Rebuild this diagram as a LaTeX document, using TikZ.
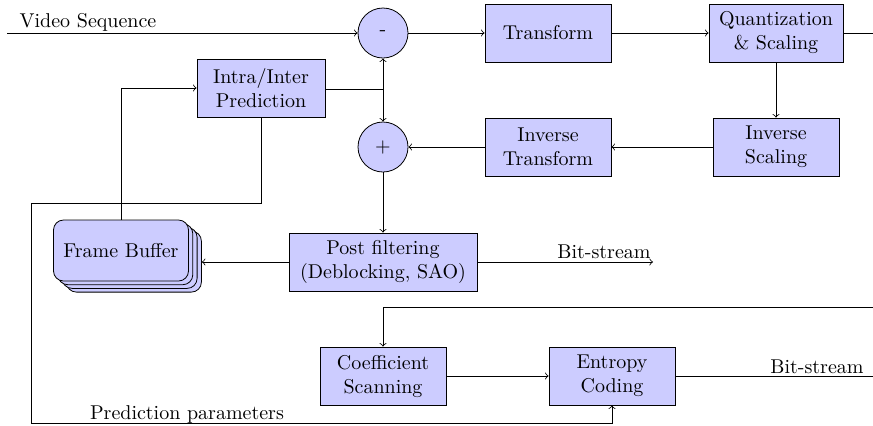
\documentclass[tikz,border=0pt]{standalone}
\usetikzlibrary{calc}
\begin{document}
\begin{tikzpicture}[x=0.5pt,y=-0.5pt,
  block/.style={draw,fill=blue!20,rectangle,minimum width=63pt,minimum height=29pt,align=center,inner sep=2pt},
  sumnode/.style={draw,fill=blue!20,circle,minimum size=25pt,inner sep=0pt},
  fbbox/.style={draw,fill=blue!20,rectangle,rounded corners=5pt,minimum width=67.5pt,minimum height=30.5pt},
  lbl/.style={anchor=base,inner sep=0pt},
  >=to]
\useasboundingbox (0,0) rectangle (873,425);

% main coding loop
\node[sumnode] (minus) at (383,33) {-};
\node[block] (transform) at (548,33) {Transform};
\node[block,minimum width=67pt] (quant) at (776,33) {Quantization\\\& Scaling};
\node[block] (invscale) at (776,147) {Inverse\\Scaling};
\node[block] (invtrans) at (548,147) {Inverse\\Transform};
\node[sumnode] (plus) at (383,147) {+};
\node[block,minimum width=64pt] (intra) at (261,88) {Intra/Inter\\Prediction};
\node[block,minimum width=94pt] (post) at (383,262) {Post filtering\\(Deblocking, SAO)};

% stacked frame buffer
\foreach \i in {3,2,1}{
  \node[fbbox] (fb\i) at ({121+4.3*\i},{250.5+3.7*\i}) {};
}
\node[fbbox] (fb) at (121,250.5) {Frame Buffer};

% entropy coding branch
\node[block] (coef) at (383,376) {Coefficient\\Scanning};
\node[block] (entropy) at (612,376) {Entropy\\Coding};

% free ends
\coordinate (vin) at (7,33);
\coordinate (qout) at (873,33);
\coordinate (junc) at (383,89);
\coordinate (bs1) at (653,262);
\coordinate (cin) at (873,307);
\coordinate (cbend) at (383,307);
\coordinate (bs2) at (873,376);
\coordinate (pp1) at (261,203);
\coordinate (pp2) at (31,203);
\coordinate (pp3) at (31,423);
\coordinate (pp4) at (612,423);

% connectors
\draw[->] (vin) -- (minus.west);
\node[lbl] at (88,27) {Video Sequence};
\draw[->] (minus) -- (transform);
\draw[->] (transform) -- (quant);
\draw (quant.east) -- (qout);
\draw[->] (quant) -- (invscale);
\draw[->] (invscale) -- (invtrans);
\draw[->] (invtrans) -- (plus);
\draw (intra.east |- junc) -- (junc);
\draw[->] (junc) -- (minus.south);
\draw[->] (junc) -- (plus.north);
\draw[->] (plus) -- (post);
\draw[->] (post.west) -- (post.west -| fb3.east);
\draw[->] (fb.north) |- (intra.west);
\draw[->] (post.east) -- (bs1);
\node[lbl] at (604,258) {Bit-stream};
\draw[->] (cin) -- (cbend) -- (coef.north);
\draw[->] (coef) -- (entropy);
\draw (entropy.east) -- (bs2);
\node[lbl] at (817,373) {Bit-stream};
\draw[->] (intra.south) -- (pp1) -- (pp2) -- (pp3) -- (pp4) -- (entropy.south);
\node[lbl] at (187,419) {Prediction parameters};
\end{tikzpicture}
\end{document}
